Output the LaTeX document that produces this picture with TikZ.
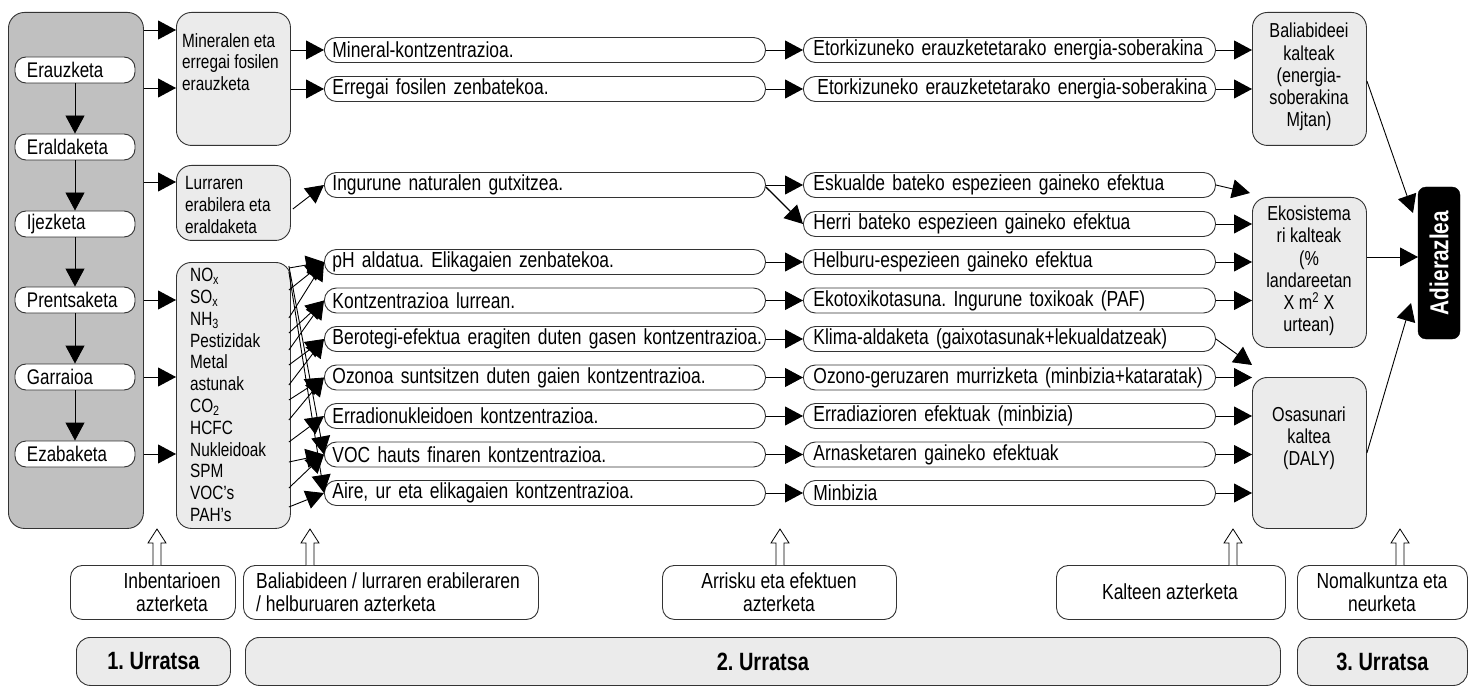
\documentclass[tikz,border=0pt]{standalone}
\usepackage{fontspec}
\setmainfont{Liberation Sans}[FakeStretch=0.8]
\usetikzlibrary{arrows.meta,calc}
\definecolor{gdark}{HTML}{C0C0C0}
\definecolor{glight}{HTML}{EBEBEB}
\definecolor{edge}{HTML}{333333}
\newcommand\fpill{\fontsize{21.8}{24}\selectfont}
\newcommand\fleftp{\fontsize{21.2}{24}\selectfont}
\newcommand\fsmall{\fontsize{19.2}{21.8}\selectfont}
\newcommand\fright{\fontsize{20.2}{22.2}\selectfont}
\newcommand\fbot{\fontsize{21.8}{23.5}\selectfont}
\newcommand\fstep{\fontsize{25}{28}\selectfont\bfseries}
\newcommand\fadi{\fontsize{26}{28}\selectfont\bfseries}
\frenchspacing
\begin{document}
\begin{tikzpicture}[x=1pt,y=-1pt,
  base/.style={draw=edge, line width=0.9pt},
  arr/.style={line width=0.9pt, -{Triangle[length=18pt,width=19pt]}},
  lpill/.style={base, fill=white, rounded corners=11pt, minimum height=26pt, text width=96pt, inner xsep=12pt, inner ysep=0pt, align=left, font=\fleftp},
  mpill/.style={base, fill=white, rounded corners=12pt, minimum height=25pt, text width=425pt, inner xsep=8pt, inner ysep=0pt, align=left, anchor=west, font=\fpill},
  rpill/.style={base, fill=white, rounded corners=12pt, minimum height=25pt, text width=392pt, inner xsep=10pt, inner ysep=0pt, align=left, anchor=west, font=\fpill},
  cbox/.style={base, fill=glight, rounded corners=15pt, anchor=north west, inner sep=0pt},
  ctext/.style={anchor=north west, inner sep=0pt, align=left, font=\fsmall},
  rtext/.style={inner sep=0pt, align=center, font=\fright},
  lab/.style={base, fill=white, rounded corners=12pt, minimum height=54pt, anchor=north west, inner sep=0pt},
  btext/.style={inner sep=0pt, font=\fbot},
  stepbox/.style={base, fill=glight, rounded corners=14pt, minimum height=48pt, anchor=north west, inner sep=0pt},
  hup/.pic={\draw[line width=0.8pt, fill=white] (-4,0) -- (-4,-22) -- (-9,-22) -- (0,-36) -- (9,-22) -- (4,-22) -- (4,0);}
]
\useasboundingbox (0,0) rectangle (1475,687);

% ---------- left grey column ----------
\node[base, fill=gdark, rounded corners=16pt, minimum width=135pt, minimum height=516pt, anchor=north west, inner sep=0pt] (grey) at (8,12) {};
\node[lpill] (erauz) at (75,70) {Erauzketa};
\node[lpill] (erald) at (75,147) {Eraldaketa};
\node[lpill] (ijez)  at (75,224) {Ijezketa};
\node[lpill] (prent) at (75,300) {Prentsaketa};
\node[lpill] (garr)  at (75,377) {Garraioa};
\node[lpill] (ezab)  at (75,454) {Ezabaketa};
\draw[arr] (erauz) -- (erald);
\draw[arr] (erald) -- (ijez);
\draw[arr] (ijez) -- (prent);
\draw[arr] (prent) -- (garr);
\draw[arr] (garr) -- (ezab);

% ---------- second column ----------
\node[cbox, minimum width=114pt, minimum height=133pt] (min) at (176,12) {};
\node[cbox, minimum width=114pt, minimum height=75pt] (lur) at (176,165) {};
\node[cbox, minimum width=114pt, minimum height=266pt] (nox) at (176,262) {};
\node[ctext] (mintx) at (182,33) {Mineralen eta\\erregai fosilen\\erauzketa};
\node[ctext] (lurtx) at (185,176) {Lurraren\\erabilera eta\\eraldaketa};
\node[ctext] (subs) at (190,268) {NO\textsubscript{x}\\SO\textsubscript{x}\\NH\textsubscript{3}\\Pestizidak\\Metal\\astunak\\CO\textsubscript{2}\\HCFC\\Nukleidoak\\SPM\\VOC’s\\PAH’s};

\coordinate (g1) at (0,30);
\coordinate (g2) at (0,88);
\coordinate (g3) at (0,182);
\draw[arr] (grey.east |- g1) -- (min.west |- g1);
\draw[arr] (grey.east |- g2) -- (min.west |- g2);
\draw[arr] (grey.east |- g3) -- (lur.west |- g3);
\draw[arr] (grey.east |- prent) -- (nox.west |- prent);
\draw[arr] (grey.east |- garr) -- (nox.west |- garr);
\draw[arr] (grey.east |- ezab) -- (nox.west |- ezab);

% ---------- middle pills ----------
\node[mpill] (p1) at (324,50) {Mineral-kontzentrazioa.};
\node[mpill] (p2) at (324,89) {Erregai fosilen zenbatekoa.};
\node[mpill] (p3) at (324,185) {Ingurune naturalen gutxitzea.};
\node[mpill] (p5) at (324,262) {pH aldatua. Elikagaien zenbatekoa.};
\node[mpill] (p6) at (324,300.5) {Kontzentrazioa lurrean.};
\node[mpill] (p7) at (324,339) {\mbox{Berotegi-efektua eragiten duten gasen kontzentrazioa.}};
\node[mpill] (p8) at (324,377.5) {Ozonoa suntsitzen duten gaien kontzentrazioa.};
\node[mpill] (p9) at (324,416) {Erradionukleidoen kontzentrazioa.};
\node[mpill] (p10) at (324,454.5) {VOC hauts finaren kontzentrazioa.};
\node[mpill] (p11) at (324,493) {Aire, ur eta elikagaien kontzentrazioa.};

\node[rpill] (q1) at (803,50) {\mbox{Etorkizuneko erauzketetarako energia-soberakina}};
\node[rpill] (q2) at (803,89) {\mbox{\hspace*{4pt}Etorkizuneko erauzketetarako energia-soberakina}};
\node[rpill] (q3) at (803,185) {Eskualde bateko espezieen gaineko efektua};
\node[rpill] (q4) at (803,224) {Herri bateko espezieen gaineko efektua};
\node[rpill] (q5) at (803,262) {Helburu-espezieen gaineko efektua};
\node[rpill] (q6) at (803,300.5) {Ekotoxikotasuna. Ingurune toxikoak (PAF)};
\node[rpill] (q7) at (803,339) {\mbox{Klima-aldaketa (gaixotasunak+lekualdatzeak)}};
\node[rpill] (q8) at (803,377.5) {\mbox{Ozono-geruzaren murrizketa (minbizia+kataratak)}};
\node[rpill] (q9) at (803,416) {Erradiazioren efektuak (minbizia)};
\node[rpill] (q10) at (803,454.5) {Arnasketaren gaineko efektuak};
\node[rpill] (q11) at (803,493) {Minbizia};

% arrows column 2 -> middle pills
\draw[arr] (min.east |- p1) -- (p1.west);
\draw[arr] (min.east |- p2) -- (p2.west);
\draw[arr] ($(lur.east)+(2,6)$) -- (p3.west);
\foreach \ys/\tg in {268/p5, 290/p5, 318/p5, 333/p6, 350/p6, 365/p7, 385/p7, 400/p8, 420/p8, 442/p9, 462/p10, 488/p10, 507/p11, 266/p10, 272/p11}{
  \coordinate (tmp) at (0,\ys);
  \draw[arr] ($(nox.east |- tmp)+(-2,0)$) -- (\tg.west);
}

% middle to right pills
\draw[arr] (p1.east) -- (q1.west);
\draw[arr] (p2.east) -- (q2.west);
\draw[arr] (p3.east) -- (q3.west);
\draw[arr, line width=1.3pt] ($(p3.east)+(0,2)$) -- (q4.west);
\draw[arr] (p5.east) -- (q5.west);
\draw[arr] (p6.east) -- (q6.west);
\draw[arr] (p7.east) -- (q7.west);
\draw[arr] (p8.east) -- (q8.west);
\draw[arr] (p9.east) -- (q9.west);
\draw[arr] (p10.east) -- (q10.west);
\draw[arr] (p11.east) -- (q11.west);

% ---------- damage boxes ----------
\node[cbox, minimum width=114pt, minimum height=133pt] (bal) at (1252,12) {};
\node[cbox, minimum width=114pt, minimum height=150pt] (eko) at (1252,197) {};
\node[cbox, minimum width=114pt, minimum height=151pt] (osa) at (1252,377) {};
\node[rtext] (baltx) at (1309,77) {Baliabideei\\kalteak\\(energia-\\soberakina\\Mjtan)};
\node[rtext] (ekotx) at (1309,271) {Ekosistema\\ri kalteak\\(\%\\landareetan\\X m\textsuperscript{2} X\\urtean)};
\node[rtext] (osatx) at (1309,438) {Osasunari\\kaltea\\(DALY)};

\coordinate (e3) at (1250,193);
\coordinate (e7) at (1252,365);
\draw[arr] (q1.east) -- (bal.west |- q1);
\draw[arr] (q2.east) -- (bal.west |- q2);
\draw[arr] (q3.east) -- (e3);
\draw[arr] (q4.east) -- (eko.west |- q4);
\draw[arr] (q5.east) -- (eko.west |- q5);
\draw[arr] (q6.east) -- (eko.west |- q6);
\draw[arr] (q7.east) -- (e7);
\draw[arr] (q8.east) -- (osa.west |- q8);
\draw[arr] (q9.east) -- (osa.west |- q9);
\draw[arr] (q10.east) -- (osa.west |- q10);
\draw[arr] (q11.east) -- (osa.west |- q11);

% ---------- indicator ----------
\node[fill=black, draw=black, rounded corners=8pt, rotate=90, minimum width=152pt, minimum height=42pt, inner sep=0pt, text=white, font=\fadi] (adi) at (1439,263) {Adierazlea};
\coordinate (t1) at (1413,213);
\coordinate (t2) at (1418,257);
\coordinate (t3) at (1411,303);
\draw[arr] ($(bal.east)+(0,2)$) -- (t1);
\draw[arr] (eko.east |- t2) -- (t2);
\draw[arr] (osa.east) -- (t3);

% ---------- bottom labels ----------
\node[lab, minimum width=165pt] (lab1) at (70,565) {};
\node[btext, align=center] (lab1tx) at (172,592) {Inbentarioen\\azterketa};
\node[lab, minimum width=295pt] (lab2) at (243,565) {};
\node[btext, align=left, anchor=west] (lab2tx) at (256,592) {Baliabideen / lurraren erabileraren\\/ helburuaren azterketa};
\node[lab, minimum width=234pt] (lab3) at (662,565) {};
\node[btext, align=center] (lab3tx) at (779,592) {Arrisku eta efektuen\\azterketa};
\node[lab, minimum width=229pt] (lab4) at (1056,565) {};
\node[btext, align=center] (lab4tx) at (1170,592) {Kalteen azterketa};
\node[lab, minimum width=170pt] (lab5) at (1297,565) {};
\node[btext, align=center] (lab5tx) at (1382,592) {Nomalkuntza eta\\neurketa};

\pic at (157,565) {hup};
\pic at (310,565) {hup};
\pic at (780,565) {hup};
\pic at (1233,565) {hup};
\pic at (1400,565) {hup};

\node[stepbox, minimum width=154pt] (s1) at (76,637) {};
\node[font=\fstep] (s1tx) at (s1.center) {1. Urratsa};
\node[stepbox, minimum width=1035pt] (s2) at (245,637) {};
\node[font=\fstep] (s2tx) at (s2.center) {2. Urratsa};
\node[stepbox, minimum width=170pt] (s3) at (1297,637) {};
\node[font=\fstep] (s3tx) at (s3.center) {3. Urratsa};
\end{tikzpicture}
\end{document}
